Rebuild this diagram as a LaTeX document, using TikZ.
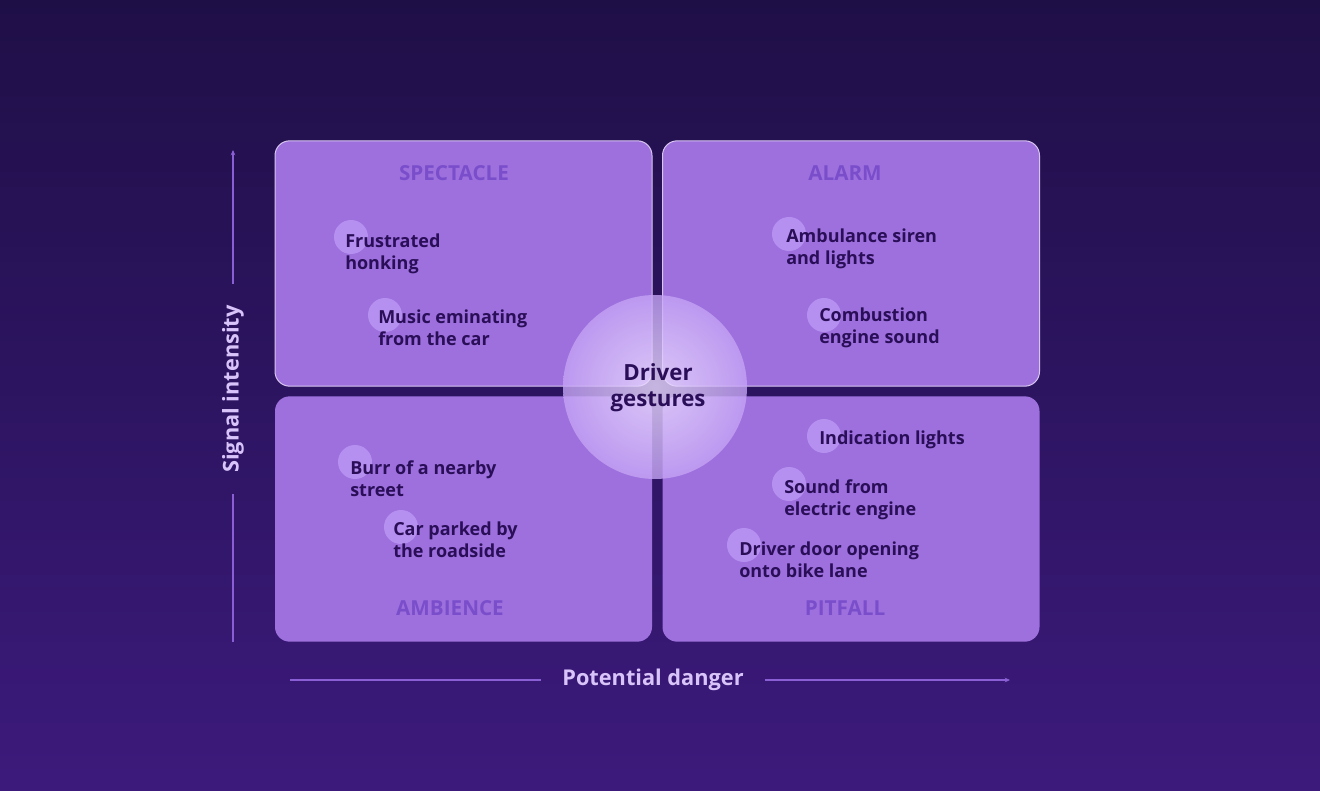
\documentclass[tikz,border=0pt]{standalone}
\usepackage{fontspec}
\setmainfont{Open Sans}
\usetikzlibrary{positioning, arrows.meta}
\definecolor{bgtop}{HTML}{1F0F47}
\definecolor{bgbot}{HTML}{3C1A7C}
\definecolor{boxfill}{HTML}{9D70DD}
\definecolor{titlecol}{HTML}{7A4ECB}
\definecolor{dotcol}{HTML}{B690F0}
\definecolor{inkcol}{HTML}{2A0E58}
\definecolor{axiscol}{HTML}{8A5FD6}
\definecolor{axislab}{HTML}{D9C4FA}
\definecolor{hubin}{HTML}{ECDEFF}
\definecolor{hubout}{HTML}{C4A3F5}

\begin{document}
\begin{tikzpicture}[x=0.75pt, y=-0.75pt,
    quad/.style={rectangle, rounded corners=11pt, fill=boxfill, inner sep=0pt,
        minimum width=282.75pt, minimum height=184pt},
    rimmed/.style={draw=white!60!boxfill, line width=0.75pt},
    title/.style={font=\bfseries\fontsize{15.5}{18}\selectfont, text=titlecol},
    dot/.style={circle, fill=dotcol, minimum size=25.5pt, inner sep=0pt},
    item/.style={font=\bfseries\fontsize{13.5}{16.5}\selectfont, text=inkcol,
        align=left, anchor=base west, inner sep=0pt},
    hub/.style={circle, minimum size=138pt, inner sep=0pt, shade,
        inner color=hubin, outer color=hubout, fill opacity=0.8, text opacity=1,
        font=\bfseries\fontsize{16.7}{19.5}\selectfont, text=inkcol, align=center},
    axislabel/.style={font=\bfseries\fontsize{16.3}{18}\selectfont, text=axislab,
        inner xsep=16pt},
    axis/.style={draw=axiscol, line width=1.1pt}]

    \shade[top color=bgtop, bottom color=bgbot] (0,0) rectangle (1320,791);

    \node[quad, rimmed] (spectacle) at (463.5,263.5) {};
    \node[quad, rimmed] (alarm) at (851,263.5) {};
    \node[quad] (ambience) at (463.5,519) {};
    \node[quad] (pitfall) at (851,519) {};

    \node[title] (spectaclet) at (454,173) {SPECTACLE};
    \node[title] (alarmt) at (845,173) {ALARM};
    \node[title] (ambiencet) at (450,608) {AMBIENCE};
    \node[title] (pitfallt) at (845,608) {PITFALL};

    % items: base west sits on the last line
    \node[dot] (honkd) at (351,237) {};
    \node[item] (honk) at (345,270) {Frustrated\\honking};
    \node[dot] (musicd) at (385,315) {};
    \node[item] (music) at (378,345) {Music eminating\\from the car};

    \node[dot] (sirend) at (789,234) {};
    \node[item] (siren) at (786,265) {Ambulance siren\\and lights};
    \node[dot] (combd) at (824,315) {};
    \node[item] (comb) at (819,344) {Combustion\\engine sound};

    \node[dot] (burrd) at (355,462) {};
    \node[item] (burr) at (350,496) {Burr of a nearby\\street};
    \node[dot] (parkd) at (401,527) {};
    \node[item] (park) at (393,557) {Car parked by\\the roadside};

    \node[dot] (indicd) at (824,436) {};
    \node[item] (indic) at (819,444) {Indication lights};
    \node[dot] (electd) at (789,484) {};
    \node[item] (elect) at (784,515) {Sound from\\electric engine};
    \node[dot] (doord) at (744,545) {};
    \node[item] (door) at (739,577) {Driver door opening\\onto bike lane};

    \node[hub] (driver) at (655,387) {};
    \node[font=\bfseries\fontsize{16.7}{19.5}\selectfont, text=inkcol, align=center]
        (drivert) at (658,388) {Driver\\gestures};

    \coordinate (ybot) at (233,642);
    \coordinate (ytop) at (233,150);
    \coordinate (xleft) at (290,680);
    \coordinate (xright) at (1010,680);
    \node[axislabel, rotate=90] (signal) at (233,389) {Signal intensity};
    \node[axislabel] (danger) at (653,680) {Potential danger};

    \draw[axis] (ybot) to (signal.west)
        (xleft) to (danger.west);
    \draw[axis, -{Stealth[length=4pt, width=3.5pt]}] (signal.east) to (ytop);
    \draw[axis, -{Stealth[length=4pt, width=3.5pt]}] (danger.east) to (xright);
\end{tikzpicture}
\end{document}
